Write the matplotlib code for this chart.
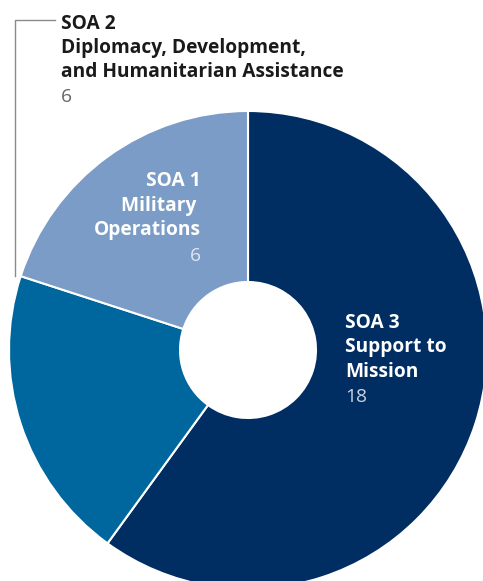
import matplotlib
matplotlib.use("Agg")
import matplotlib.pyplot as plt

categories = ["SOA 3", "SOA 2", "SOA 1"]
names = ["Support to\nMission", "Diplomacy, Development,\nand Humanitarian Assistance", "Military\nOperations"]
values = [18, 6, 6]
colors = ["#002d62", "#00679e", "#7b9cc7"]

W, H = 483, 581
fig = plt.figure(figsize=(W / 100, H / 100), dpi=100)
ax = fig.add_axes([0, 0, 1, 1])

cx, cy, R, r = 248, H - 350, 239, 68
ax.pie(values, colors=colors, startangle=90, counterclock=False,
       center=(cx, cy), radius=R, frame=True,
       wedgeprops=dict(width=R - r, edgecolor="white", linewidth=1.5))
ax.set_xlim(0, W)
ax.set_ylim(0, H)
ax.set_aspect("equal")
ax.axis("off")

FONT = "Open Sans"
fs = 13.8

def lines(x, baselines, rows, ha):
    for yb, (txt, col, wt) in zip(baselines, rows):
        ax.text(x, H - yb, txt, ha=ha, va="baseline", color=col,
                fontsize=fs, fontweight=wt, family=FONT)

# SOA 2 (top label with leader)
lines(61, [29, 53, 77, 102],
      [(categories[1], "#1a1a1a", "bold"),
       (names[1].split("\n")[0], "#1a1a1a", "bold"),
       (names[1].split("\n")[1], "#1a1a1a", "bold"),
       (str(values[1]), "#666666", "normal")], "left")
ax.plot([55, 15, 15], [H - 20, H - 20, H - 276], color="#8a8a8a", lw=1)

# SOA 1
lines(201, [186, 211, 235, 261],
      [(categories[2], "white", "bold"),
       (names[2].split("\n")[0] + " ", "white", "bold"),
       (names[2].split("\n")[1], "white", "bold"),
       (str(values[2]), "#dfe6f0", "normal")], "right")

# SOA 3
lines(345, [328, 352, 377, 402],
      [(categories[0], "white", "bold"),
       (names[0].split("\n")[0], "white", "bold"),
       (names[0].split("\n")[1], "white", "bold"),
       (str(values[0]), "#c9d3e3", "normal")], "left")

fig.savefig("out.png", dpi=100)
